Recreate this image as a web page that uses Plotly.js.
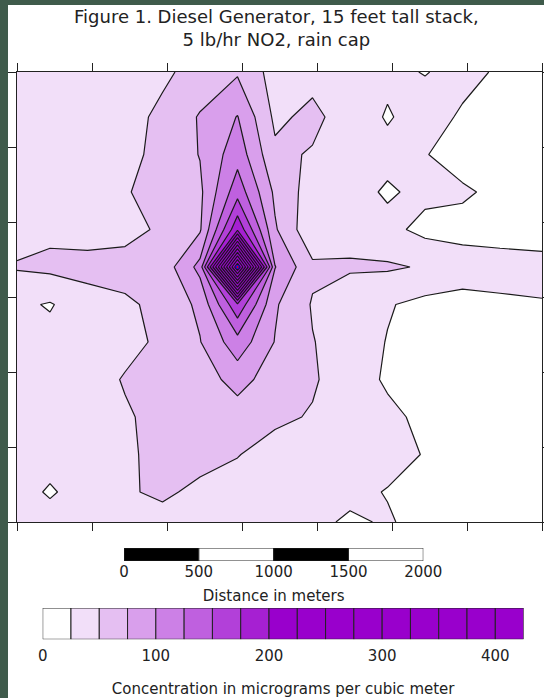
<!DOCTYPE html>
<html>
<head>
<meta charset="utf-8">
<script src="https://cdn.plot.ly/plotly-3.0.1.min.js"></script>
<style>
  html, body { margin: 0; padding: 0; background: #ffffff; }
  #chart { width: 544px; height: 698px; }
</style>
</head>
<body>
<div id="chart"></div>
<script>
// ---- Receptor grid (metres) ----
const xNodes = [0, 220, 470, 720, 970, 1220, 1470, 1720, 1970, 2220, 2470, 2720, 2970, 3220, 3500];
const yNodes = [0, 200, 450, 700, 950, 1200, 1450, 1700, 1950, 2200, 2450, 2700, 3000];

// ---- Concentrations (micrograms per cubic metre), one row per y node ----
const concY0    = [33, 32, 34, 42, 44, 40, 35, 32, 30, 22, 27, 18, 10, 8, 8];
const concY200  = [32, 23, 33, 48, 53, 46, 40, 36, 34, 30, 24, 14, 10, 8, 8];
const concY450  = [33, 32, 35, 46, 57, 56, 51, 40, 36, 34, 32, 24, 14, 10, 8];
const concY700  = [33, 34, 36, 47, 58, 58, 62, 55, 48, 38, 30, 20, 12, 8, 8];
const concY950  = [33, 34, 38, 52, 60, 62, 85, 62, 53, 36, 22, 14, 10, 8, 8];
const concY1200 = [32, 33, 35, 42, 55, 74, 115, 74, 51, 38, 24, 15, 12, 10, 10];
const concY1450 = [30, 23, 40, 45, 58, 80, 170, 78, 48, 30, 27, 18, 18, 22, 24];
const concY1700 = [52, 56, 58, 62, 60, 108, 450, 101, 55, 54, 53, 48, 35, 32, 30];
const concY1950 = [40, 44, 40, 40, 55, 72, 195, 78, 30, 37, 32, 18, 18, 18, 18];
const concY2200 = [33, 34, 38, 48, 60, 70, 140, 70, 38, 34, 22, 31, 28, 20, 16];
const concY2450 = [33, 35, 38, 42, 58, 76, 115, 55, 48, 36, 32, 26, 16, 12, 10];
const concY2700 = [34, 35, 37, 40, 56, 77, 101, 45, 56, 38, 23, 35, 22, 15, 12];
const concY3000 = [35, 36, 38, 40, 45, 60, 72, 40, 42, 35, 30, 24, 32, 22, 15];

// ---- Source location ----
const sourceX = [1470];
const sourceY = [1700];

// ---- Axis ticks (metres) ----
const xTicks = [0, 500, 1000, 1500, 2000, 2500, 3000, 3500];
const yTicks = [0, 500, 1000, 1500, 2000, 2500, 3000];

// ---- Scale bar ----
const scaleStarts = [0, 500, 1000, 1500];
const scaleLengths = [500, 500, 500, 500];
const scaleColors = ['#000000', '#ffffff', '#000000', '#ffffff'];
const scaleTicks = [0, 500, 1000, 1500, 2000];

// ---- Concentration legend bins ----
const binStarts = [0, 25, 50, 75, 100, 125, 150, 175, 200, 225, 250, 275, 300, 325, 350, 375, 400];
const binWidths = [25, 25, 25, 25, 25, 25, 25, 25, 25, 25, 25, 25, 25, 25, 25, 25, 25];
const binColors = ['#ffffff', '#f2dff9', '#e5bff2', '#d99fec', '#cc80e6', '#bf60df', '#b240d9', '#a620d2',
                   '#9900cc', '#9900cc', '#9900cc', '#9900cc', '#9900cc', '#9900cc', '#9900cc', '#9900cc', '#9900cc'];
const legendTicks = [0, 100, 200, 300, 400];

// ---- Texts ----
const titleText = 'Figure 1. Diesel Generator, 15 feet tall stack,<br>5 lb/hr NO2, rain cap';
const scaleTitle = 'Distance in meters';
const legendTitle = 'Concentration in micrograms per cubic meter';

const z = [concY0, concY200, concY450, concY700, concY950, concY1200, concY1450,
           concY1700, concY1950, concY2200, concY2450, concY2700, concY3000];

const bandColors = binColors.concat(['#9900cc']);
const colorscale = bandColors.map((c, k, arr) => [k / (arr.length - 1), c]);

const FONT = 'DejaVu Sans, Verdana, sans-serif';
const INK = '#222222';

const W = 544, H = 698, ML = 17, MR = 2, MT = 72, MB = 0;
const PW = W - ML - MR, PH = H - MT - MB;
const px2x = p => (p - ML) / PW;
const py2y = p => (H - MB - p) / PH;

const traces = [
  {
    type: 'contour', x: xNodes, y: yNodes, z: z,
    autocontour: false,
    contours: { coloring: 'fill', start: 25, end: 425, size: 25, showlines: true },
    line: { color: '#1a1a1a', width: 1.2, smoothing: 0 },
    colorscale: colorscale, showscale: false, hoverinfo: 'skip',
    xaxis: 'x', yaxis: 'y'
  },
  {
    type: 'scatter', mode: 'markers', x: sourceX, y: sourceY,
    marker: { symbol: 'circle', size: 3, color: '#ee0000', line: { color: '#0000ff', width: 1 } },
    hoverinfo: 'skip', xaxis: 'x', yaxis: 'y', showlegend: false
  },
  {
    type: 'bar', orientation: 'h', x: scaleLengths, base: scaleStarts, y: [0, 0, 0, 0], width: 1,
    marker: { color: scaleColors, line: { color: INK, width: 1 } },
    hoverinfo: 'skip', xaxis: 'x2', yaxis: 'y2', showlegend: false
  },
  {
    type: 'bar', orientation: 'h', x: binWidths, base: binStarts, y: binStarts.map(() => 0), width: 1,
    marker: { color: binColors, line: { color: INK, width: 1 } },
    hoverinfo: 'skip', xaxis: 'x3', yaxis: 'y3', showlegend: false
  }
];

const frameAxis = {
  showline: true, linecolor: INK, linewidth: 1, mirror: 'ticks',
  ticks: 'outside', ticklen: 8, tickwidth: 1, tickcolor: INK,
  showticklabels: false, showgrid: false, zeroline: false, fixedrange: true
};

const layout = {
  width: W, height: H,
  margin: { l: ML, r: MR, t: MT, b: MB, pad: 0 },
  paper_bgcolor: '#ffffff', plot_bgcolor: '#ffffff',
  showlegend: false, barmode: 'overlay',
  font: { family: FONT, color: INK, size: 15 },
  xaxis: Object.assign({}, frameAxis, { domain: [0, 1], range: [0, 3500], tickvals: xTicks, anchor: 'y' }),
  yaxis: Object.assign({}, frameAxis, { domain: [py2y(522), 1], range: [0, 3000], tickvals: yTicks, anchor: 'x' }),
  xaxis2: {
    domain: [px2x(124), px2x(423.3)], range: [0, 2000], anchor: 'y2',
    tickvals: scaleTicks, ticks: '', showline: false, showgrid: false, zeroline: false,
    tickfont: { family: FONT, size: 15, color: INK }, fixedrange: true,
    title: { text: scaleTitle, font: { family: FONT, size: 15, color: INK }, standoff: 10 },
    automargin: false
  },
  yaxis2: { domain: [py2y(561), py2y(548)], range: [-0.5, 0.5], visible: false, anchor: 'x2', fixedrange: true },
  xaxis3: {
    domain: [px2x(42.7), px2x(523.6)], range: [0, 425], anchor: 'y3',
    tickvals: legendTicks, ticks: 'outside', ticklen: 3, tickcolor: 'rgba(0,0,0,0)',
    showline: false, showgrid: false, zeroline: false,
    tickfont: { family: FONT, size: 15, color: INK }, fixedrange: true,
    title: { text: legendTitle, font: { family: FONT, size: 15, color: INK }, standoff: 27 },
    automargin: false
  },
  yaxis3: { domain: [py2y(639.3), py2y(608)], range: [-0.5, 0.5], visible: false, anchor: 'x3', fixedrange: true },
  annotations: [
    { text: titleText, xref: 'paper', yref: 'paper', x: px2x(276), y: py2y(4),
      xanchor: 'center', yanchor: 'top', showarrow: false, align: 'center',
      font: { family: FONT, size: 18, color: INK } }
  ],
  shapes: [
    { type: 'rect', xref: 'paper', yref: 'paper', x0: px2x(-10), x1: px2x(8), y0: py2y(720), y1: py2y(-10),
      fillcolor: '#3f5b4b', line: { width: 0 }, layer: 'above' },
    { type: 'rect', xref: 'paper', yref: 'paper', x0: px2x(-10), x1: px2x(560), y0: py2y(5), y1: py2y(-10),
      fillcolor: '#3f5b4b', line: { width: 0 }, layer: 'above' }
  ]
};

Plotly.newPlot('chart', traces, layout, { staticPlot: true, displayModeBar: false });
</script>
</body>
</html>
